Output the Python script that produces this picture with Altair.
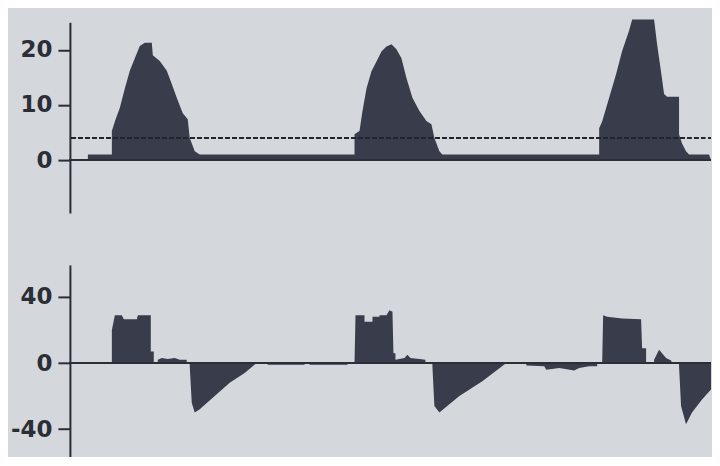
import altair as alt
import pandas as pd

# ---- data (time in display samples) ----
# Airway pressure waveform (breakpoints)
p_t = [18, 18, 42, 42, 45, 50, 55, 60, 65, 70, 75, 77, 82, 83, 90, 97, 102, 107, 113, 118, 120, 125, 130,
       285, 285, 290, 293, 297, 302, 307, 312, 317, 322, 327, 332, 337, 343, 350, 357, 362, 365, 370, 373,
       530, 530, 533, 540, 547, 553, 560, 563, 585, 588, 592, 595, 598, 610, 610, 613, 617, 620, 640, 642]
p_v = [0, 1, 1, 5.3, 7, 9.5, 13, 16.2, 18.5, 20.7, 21.3, 21.3, 21.3, 19, 18, 16.2, 13.8, 11.3, 8.5, 7.4, 4, 1.6, 1,
       1, 4.7, 5.3, 8.9, 13, 16.1, 17.9, 19.7, 20.6, 21, 20.1, 18.5, 14.9, 11.3, 8.9, 7.1, 6.5, 4, 1.6, 1,
       1, 5.8, 7, 11.3, 15.6, 19.8, 23.5, 25.5, 25.5, 21, 16, 12, 11.5, 11.5, 4.7, 3, 1.6, 1, 1, 0]

# Flow waveform (breakpoints)
f_t = [42, 42, 45, 52, 54, 67, 68, 81, 81, 84, 84, 88, 88, 92, 98, 105, 110, 117, 117,
       120, 120, 122, 125, 130, 145, 160, 175, 187, 198, 198, 235, 235, 240, 240, 278, 278,
       285, 286, 295, 295, 303, 303, 310, 310, 317, 320, 323, 324, 326, 326, 335, 338, 341, 350, 356, 356,
       363, 363, 365, 370, 390, 413, 437, 457, 457, 475, 477, 490, 505, 510, 520, 528, 528,
       533, 534, 538, 553, 572, 573, 577, 577, 585, 585, 590, 593, 597, 602, 603,
       610, 610, 612, 617, 623, 633, 642, 642]
f_v = [0, 20, 29, 29, 26.5, 26.5, 29, 29, 7, 7, 0, 0, 2, 3, 2.5, 3, 2, 2, 0,
       0, -2, -24, -30, -28, -20, -12, -6, 0, 0, -1, -1, 0, 0, -1, -1, 0,
       0, 29, 29, 25, 25, 28, 28, 29, 29, 32, 31, 6, 6, 2, 3, 5, 3, 2.5, 2, 0,
       0, -2, -26, -30, -20, -11, 0, 0, -1.5, -2, -4, -3, -4.5, -3, -2, -2, 0,
       0, 29, 28, 27, 26.5, 9, 9, 0, 0, 2, 8, 6, 3, 1.5, 0,
       0, -2, -26, -37, -30, -22, -16, 0]

PEEP = 4
T_RANGE = [0, 642]
P_DOMAIN = [-9.6, 25]
F_DOMAIN = [-56.7, 59.4]
P_TICKS = [0, 10, 20]
F_TICKS = [-40, 0, 40]

BG = "#d4d7db"
FILL = "#393d4b"
INK = "#2b2e36"

pdf = pd.DataFrame({"t": p_t, "v": p_v})
fdf = pd.DataFrame({"t": f_t, "v": f_v})

xs = alt.Scale(domain=T_RANGE, nice=False, zero=False)


def axis(vals):
    return alt.Axis(values=vals, title=None, grid=False, domainColor=INK, domainWidth=2,
                    tickColor=INK, tickWidth=2, tickSize=12, labelFont="DejaVu Sans",
                    labelFontWeight="bold", labelFontSize=23, labelColor=INK, labelPadding=6,
                    labelExpr="'' + datum.value")


def panel(df, domain, ticks, height, peep=None):
    ys = alt.Scale(domain=domain, nice=False, zero=False)
    area = alt.Chart(df).mark_area(color=FILL, interpolate="linear").encode(
        x=alt.X("t:Q", scale=xs, axis=None),
        y=alt.Y("v:Q", scale=ys, axis=axis(ticks)),
        y2=alt.datum(0),
    )
    zero = alt.Chart(df).mark_rule(color=INK, strokeWidth=2).encode(
        x=alt.datum(T_RANGE[0]), x2=alt.datum(T_RANGE[1]), y=alt.datum(0)
    )
    layers = [area, zero]
    if peep is not None:
        dash = alt.Chart(df).mark_rule(color="#22252c", strokeWidth=2, strokeDash=[4, 3]).encode(
            x=alt.datum(2), x2=alt.datum(T_RANGE[1]), y=alt.datum(peep)
        )
        layers.append(dash)
    return alt.layer(*layers).properties(width=642, height=height)


top = panel(pdf, P_DOMAIN, P_TICKS, 191, PEEP)
bottom = panel(fdf, F_DOMAIN, F_TICKS, 192)

chart = alt.vconcat(top, bottom, spacing=52).properties(
    padding={"left": 2, "top": 11, "right": 0, "bottom": 0},
    background=BG,
).configure_view(stroke=None)

chart.save("out.html", embed_options={"renderer": "svg", "actions": False})
